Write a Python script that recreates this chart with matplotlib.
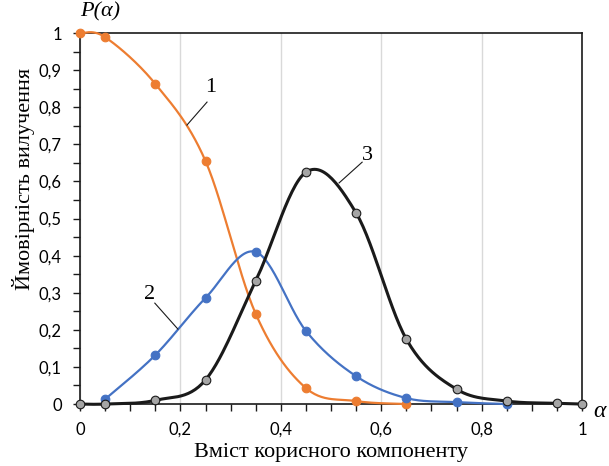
import matplotlib
matplotlib.use('Agg')
import matplotlib.pyplot as plt
from matplotlib.ticker import MultipleLocator, FuncFormatter
import numpy as np

# дані
x1 = [0, 0.05, 0.15, 0.25, 0.35, 0.45, 0.55, 0.65]
p1 = [1.0, 0.989, 0.863, 0.655, 0.243, 0.043, 0.008, 0.0]

x2 = [0.05, 0.15, 0.25, 0.35, 0.45, 0.55, 0.65, 0.75, 0.85]
p2 = [0.013, 0.132, 0.286, 0.41, 0.197, 0.075, 0.016, 0.005, 0.0]

x3 = [0, 0.05, 0.15, 0.25, 0.35, 0.45, 0.55, 0.65, 0.75, 0.85, 0.95, 1.0]
p3 = [0.0, 0.0, 0.01, 0.065, 0.332, 0.625, 0.515, 0.175, 0.04, 0.008, 0.002, 0.0]

ORANGE = '#ED7D31'
BLUE = '#4472C4'
BLACK = '#1a1a1a'
GREY = '#A5A5A5'


def smooth(xs, ys, n=30):
    """згладжування як у Excel (Catmull-Rom через Безьє)"""
    xs = np.asarray(xs, float)
    ys = np.asarray(ys, float)
    px = np.concatenate([[xs[0]], xs, [xs[-1]]])
    py = np.concatenate([[ys[0]], ys, [ys[-1]]])
    ox, oy = [], []
    t = np.linspace(0, 1, n)
    for i in range(1, len(px) - 2):
        p0 = np.array([px[i], py[i]])
        p3 = np.array([px[i + 1], py[i + 1]])
        c1 = p0 + (p3 - np.array([px[i - 1], py[i - 1]])) / 6
        c2 = p3 - (np.array([px[i + 2], py[i + 2]]) - p0) / 6
        pts = ((1 - t) ** 3)[:, None] * p0 + (3 * (1 - t) ** 2 * t)[:, None] * c1 \
            + (3 * (1 - t) * t ** 2)[:, None] * c2 + (t ** 3)[:, None] * p3
        ox.extend(pts[:, 0])
        oy.extend(pts[:, 1])
    return np.array(ox), np.array(oy)


fig = plt.figure(figsize=(6.09, 4.66), dpi=100)
ax = fig.add_axes([0.1314, 0.133, 0.8243, 0.796])

for xs, ys, col, mfc in [(x1, p1, ORANGE, ORANGE), (x2, p2, BLUE, BLUE), (x3, p3, BLACK, GREY)]:
    sx, sy = smooth(xs, ys)
    ax.plot(sx, sy, color=col, linewidth=2.2 if col == BLACK else 1.6, zorder=3, clip_on=False)
    mec = BLACK if col == BLACK else col
    ax.plot(xs, ys, 'o', color=col, markerfacecolor=mfc, markeredgecolor=mec,
            markeredgewidth=0.8, markersize=6.2, zorder=4, clip_on=False)

ax.set_xlim(0, 1)
ax.set_ylim(0, 1)
ax.xaxis.set_major_locator(MultipleLocator(0.2))
ax.xaxis.set_minor_locator(MultipleLocator(0.05))
ax.yaxis.set_major_locator(MultipleLocator(0.1))
ax.yaxis.set_minor_locator(MultipleLocator(0.05))
fmt = FuncFormatter(lambda v, _: ('%g' % round(v, 2)).replace('.', ','))
ax.xaxis.set_major_formatter(fmt)
ax.yaxis.set_major_formatter(fmt)
ax.grid(axis='x', color='#d9d9d9', linewidth=1)
ax.set_axisbelow(True)
for s in ax.spines.values():
    s.set_color(BLACK)
    s.set_linewidth(1.2)
ax.tick_params(which='both', direction='out', color=BLACK, width=1)
ax.tick_params(which='major', length=5, labelsize=12, pad=8)
ax.tick_params(which='minor', length=5)
for lbl in ax.get_xticklabels() + ax.get_yticklabels():
    lbl.set_family('Lato')

ax.set_xlabel('Вміст корисного компоненту', family='Liberation Serif', fontsize=16)
ax.xaxis.set_label_coords(0.5, -0.104)
ax.set_ylabel('Ймовірність вилучення', family='Liberation Serif', fontsize=16)
ax.yaxis.set_label_coords(-0.09, 0.606)

ax.text(0.04, 1.03, 'P(α)', family='Liberation Serif', style='italic', fontsize=16,
        ha='center', va='bottom')
ax.text(1.035, -0.02, 'α', family='Liberation Serif', style='italic', fontsize=17,
        ha='center', va='center')

# підписи кривих
notes = [('1', (0.261, 0.852), (0.253, 0.814), (0.213, 0.752)),
         ('2', (0.139, 0.296), (0.149, 0.272), (0.195, 0.202)),
         ('3', (0.572, 0.671), (0.562, 0.652), (0.516, 0.596))]
for txt, tpos, a, b in notes:
    ax.text(*tpos, txt, family='Liberation Serif', fontsize=16, ha='center', va='center')
    ax.plot([a[0], b[0]], [a[1], b[1]], color=BLACK, linewidth=0.8, zorder=5)

fig.savefig('out.png', dpi=100, facecolor='white')
